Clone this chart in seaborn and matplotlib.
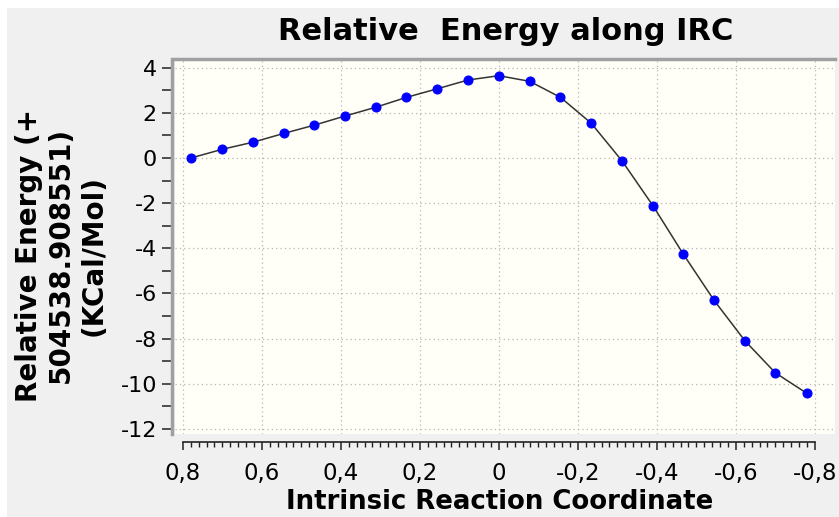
import matplotlib
matplotlib.use("Agg")
import matplotlib.pyplot as plt
import matplotlib.ticker as mticker
from matplotlib.patches import Rectangle
import numpy as np
import pandas as pd
import seaborn as sns

# IRC points
irc_coord = [0.78, 0.70, 0.623, 0.545, 0.467, 0.39, 0.312, 0.234, 0.156, 0.078, 0.0,
             -0.078, -0.156, -0.234, -0.312, -0.39, -0.467, -0.545, -0.623, -0.70, -0.78]
rel_energy = [0.0, 0.39, 0.70, 1.09, 1.46, 1.86, 2.25, 2.69, 3.07, 3.46, 3.65,
              3.40, 2.69, 1.54, -0.13, -2.11, -4.26, -6.31, -8.10, -9.52, -10.43]
x_ticks = [0.8, 0.6, 0.4, 0.2, 0.0, -0.2, -0.4, -0.6, -0.8]
y_ticks = [4, 2, 0, -2, -4, -6, -8, -10, -12]

df = pd.DataFrame({"irc": irc_coord, "energy": rel_energy})

sns.set_style("white")
plt.rcParams["font.family"] = ["DejaVu Sans"]
plt.rcParams["axes.unicode_minus"] = False
plt.rcParams["text.color"] = "black"
plt.rcParams["xtick.color"] = "black"
plt.rcParams["ytick.color"] = "black"

W, H = 839, 517
fig = plt.figure(figsize=(W / 100, H / 100), dpi=100)
fig.patch.set_facecolor("white")
# grey panel behind the chart
fig.add_artist(Rectangle((7 / W, 0), 1, 1 - 8 / H, transform=fig.transFigure,
                         facecolor="#f0f0f0", edgecolor="none", zorder=-1))

# plot area in pixels: left 175, right 835, top 59, bottom 434
ax = fig.add_axes([175 / W, (H - 434) / H, 660 / W, 375 / H])
ax.set_facecolor("#fffff7")

sns.lineplot(data=df, x="irc", y="energy", ax=ax, color="#333333", linewidth=1.1,
             marker="o", markersize=6.5, markerfacecolor="#0000ff",
             markeredgecolor="#0000ff")

ax.set_xlim(0.82, -0.851)
ax.set_ylim(-12.23, 4.39)
ax.set_xticks(x_ticks)
ax.set_yticks(y_ticks)
minor_x = [v for v in np.round(np.arange(-0.8, 0.8001, 0.02), 2)
           if not np.any(np.isclose(v, x_ticks))]
ax.set_xticks(minor_x, minor=True)
ax.yaxis.set_minor_locator(mticker.MultipleLocator(1))


def comma_fmt(v, pos):
    if abs(v) < 1e-9:
        return "0"
    return f"{v:.1f}".replace(".", ",")


ax.xaxis.set_major_formatter(mticker.FuncFormatter(comma_fmt))

ax.grid(True, which="major", linestyle=(0, (1, 2.5)), color="#b5b5b5", linewidth=0.9)

ax.spines["right"].set_visible(False)
ax.spines["top"].set_color("#a0a0a0")
ax.spines["top"].set_linewidth(2.5)
ax.spines["left"].set_color("#a0a0a0")
ax.spines["left"].set_linewidth(2.5)
ax.spines["left"].set_position(("outward", 2))
ax.spines["bottom"].set_color("#222222")
ax.spines["bottom"].set_linewidth(1.2)
ax.spines["bottom"].set_position(("outward", 6))
ax.spines["bottom"].set_bounds(0.8, -0.8)

ax.tick_params(bottom=True, left=True, which="both")
ax.tick_params(axis="x", which="major", direction="out", length=6, width=1.1,
               color="#222222", labelsize=16.5, pad=8)
ax.tick_params(axis="x", which="minor", direction="out", length=3.5, width=1.0,
               color="#222222")
ax.tick_params(axis="y", which="both", direction="out", length=7, width=1.1,
               color="#222222", labelsize=16, pad=4)
ax.set_xlabel("")
ax.set_ylabel("")

fig.text(506 / W, 1 - 32 / H, "Relative  Energy along IRC", ha="center", va="center",
         fontsize=22, fontweight="bold")
fig.text(500 / W, 1 - 502 / H, "Intrinsic Reaction Coordinate", ha="center", va="center",
         fontsize=18.7, fontweight="bold")
fig.text(61 / W, 1 - 255 / H, "Relative Energy (+\n504538.908551)\n(KCal/Mol)",
         ha="center", va="center", rotation=90, multialignment="center",
         fontsize=20, fontweight="bold", linespacing=1.2)

fig.savefig("out.png", dpi=100)
